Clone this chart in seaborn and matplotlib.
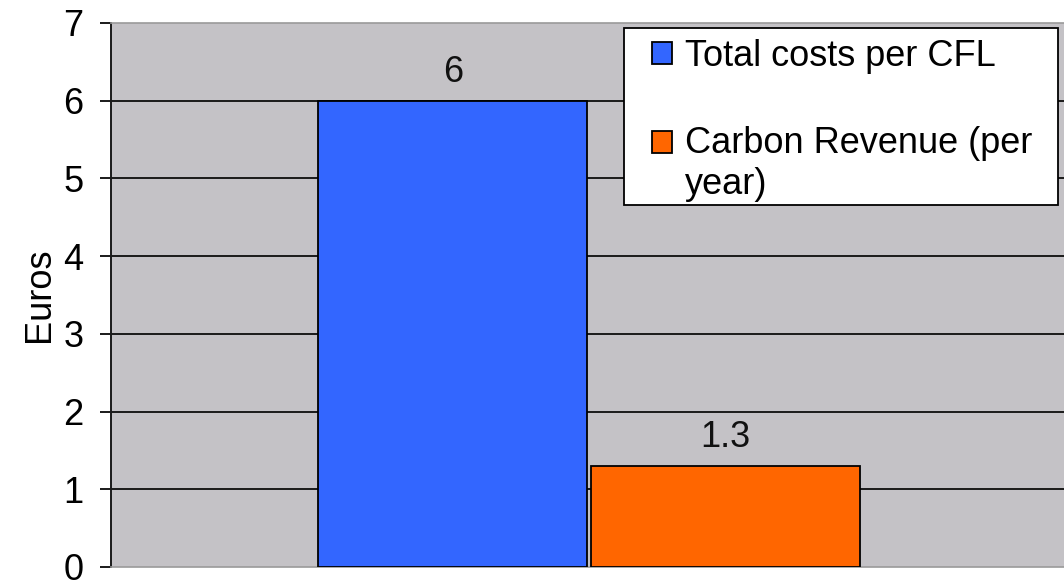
import matplotlib
matplotlib.use("Agg")
import matplotlib.pyplot as plt
from matplotlib.patches import Rectangle
from matplotlib.legend_handler import HandlerPatch
import seaborn as sns
import pandas as pd

# Series shown as bars, with their values in euros
series = ["Total costs per CFL", "Carbon Revenue (per\nyear)"]
values = [6, 1.3]
value_labels = ["6", "1.3"]
group = ["", ""]
colors = ["#3366FF", "#FF6600"]
y_ticks = [0, 1, 2, 3, 4, 5, 6, 7]

df = pd.DataFrame({"group": group, "series": series, "value": values})

sns.set_theme(style="white")
plt.rcParams["font.family"] = ["Liberation Sans", "DejaVu Sans"]

FS = 26

fig = plt.figure(figsize=(10.64, 5.80), dpi=100)
ax = fig.add_axes([111 / 1064, 13 / 580, 1 - 111 / 1064 + 0.003, 544 / 580])
ax.set_facecolor("#C4C2C6")

sns.barplot(data=df, x="group", y="value", hue="series", hue_order=series,
            palette=colors, width=0.57, gap=0.012, edgecolor="black",
            linewidth=1.3, saturation=1, ax=ax, zorder=3)

ax.set_ylim(0, 7)
ax.set_xlim(-0.5, 0.5)
ax.set_yticks(y_ticks)
ax.set_yticklabels([str(t) for t in y_ticks], fontsize=FS, color="black")
ax.set_xticks([])
ax.set_xlabel("")
ax.set_ylabel("Euros", fontsize=FS, labelpad=4, color="black")

for t in y_ticks[1:-1]:
    ax.axhline(t, color="#1a1a1a", linewidth=1.4, zorder=1)

ax.tick_params(axis="y", which="both", left=True, length=8, width=1.4,
               color="#1a1a1a", pad=12, direction="out")

ax.spines["right"].set_visible(False)
ax.spines["left"].set_color("#1a1a1a")
ax.spines["left"].set_linewidth(1.4)
for side in ["top", "bottom"]:
    ax.spines[side].set_color("#9a9a9a")
    ax.spines[side].set_linewidth(1.2)

for cont, lab in zip(ax.containers, value_labels):
    ax.bar_label(cont, labels=[lab], padding=8, fontsize=FS, color="#111111")


class SquareHandle(HandlerPatch):
    """Square legend key, lifted so it sits beside the first line of text."""

    def __init__(self, lift=0.0):
        super().__init__()
        self.lift = lift

    def create_artists(self, legend, orig_handle, xdescent, ydescent,
                       width, height, fontsize, trans):
        p = Rectangle((-xdescent, -ydescent + self.lift * fontsize),
                      width, height, facecolor=orig_handle.get_facecolor(),
                      edgecolor="black", linewidth=1.3, transform=trans)
        return [p]


handles, labels = ax.get_legend_handles_labels()
if ax.get_legend():
    ax.get_legend().remove()

# legend frame
fig.patches.append(Rectangle((624 / 1064, 1 - 205 / 580), 434 / 1064, 177 / 580,
                             transform=fig.transFigure, facecolor="white",
                             edgecolor="black", linewidth=1.3, zorder=5))

leg = fig.legend(handles, labels, loc="upper left",
                 bbox_to_anchor=(652 / 1064, 1 - 39 / 580), fontsize=FS,
                 frameon=False, borderpad=0, labelspacing=1.45,
                 handlelength=0.56, handleheight=0.56, handletextpad=0.36,
                 borderaxespad=0,
                 handler_map={handles[0]: SquareHandle(0.0),
                              handles[1]: SquareHandle(0.62)})
leg.set_zorder(6)
for txt in leg.get_texts():
    txt.set_color("black")
    txt.set_linespacing(1.2)

fig.savefig("out.png", dpi=100)
